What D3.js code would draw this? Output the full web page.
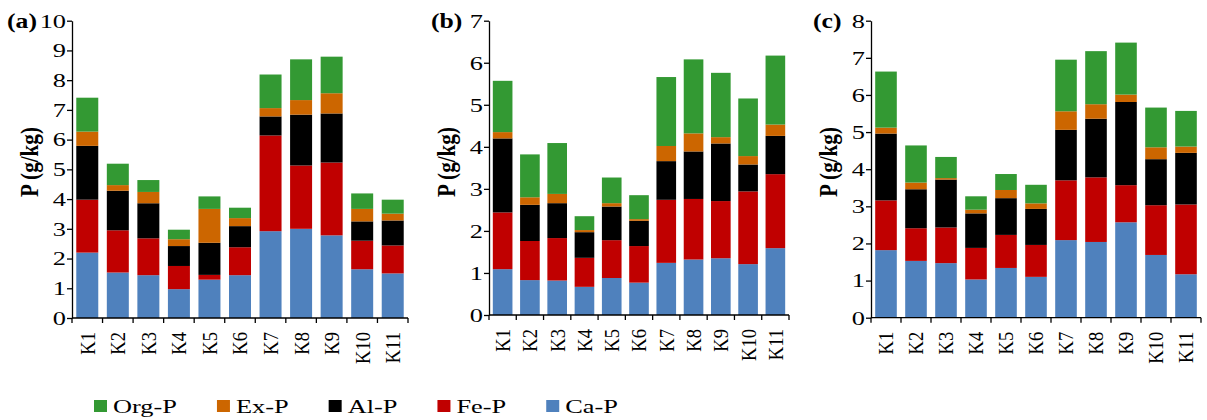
<!DOCTYPE html>
<html>
<head>
<meta charset="utf-8">
<script src="https://cdn.jsdelivr.net/npm/d3@7"></script>
<style>
  html, body { margin: 0; padding: 0; background: #fff; }
  svg { display: block; }
  text { fill: #000; }
</style>
</head>
<body>
<svg id="chart" width="1207" height="420"></svg>
<script>
// Sampling sites
const categories = ["K1","K2","K3","K4","K5","K6","K7","K8","K9","K10","K11"];

// Phosphorus fractions, bottom of the stack first
const fractions = ["Ca-P","Fe-P","Al-P","Ex-P","Org-P"];
const fractionColors = ["#4F81BD","#C00000","#000000","#CC6600","#339933"];
// Legend order (left to right)
const legendOrder = ["Org-P","Ex-P","Al-P","Fe-P","Ca-P"];

// Panel (a), g/kg
const caA  = [2.20,1.53,1.44,0.97,1.29,1.44,2.92,3.00,2.78,1.64,1.50];
const feA  = [1.78,1.42,1.24,0.78,0.16,0.94,3.22,2.13,2.45,0.96,0.94];
const alA  = [1.81,1.33,1.18,0.67,1.08,0.71,0.64,1.71,1.65,0.65,0.84];
const exA  = [0.48,0.19,0.38,0.23,1.14,0.27,0.28,0.49,0.68,0.42,0.23];
const orgA = [1.14,0.72,0.40,0.32,0.42,0.35,1.13,1.37,1.23,0.52,0.47];

// Panel (b), g/kg
const caB  = [1.09,0.83,0.82,0.67,0.88,0.77,1.24,1.32,1.35,1.21,1.59];
const feB  = [1.35,0.93,1.01,0.69,0.90,0.87,1.50,1.44,1.36,1.73,1.76];
const alB  = [1.76,0.86,0.83,0.61,0.80,0.60,0.92,1.13,1.37,0.64,0.91];
const exB  = [0.15,0.18,0.22,0.05,0.08,0.04,0.36,0.43,0.15,0.20,0.27];
const orgB = [1.22,1.02,1.21,0.33,0.61,0.57,1.64,1.76,1.53,1.37,1.64];

// Panel (c), g/kg
const caC  = [1.82,1.53,1.47,1.03,1.34,1.10,2.09,2.04,2.57,1.69,1.17];
const feC  = [1.34,0.88,0.96,0.85,0.89,0.86,1.61,1.74,1.00,1.34,1.88];
const alC  = [1.80,1.05,1.29,0.93,0.99,0.97,1.36,1.58,2.24,1.24,1.39];
const exC  = [0.16,0.18,0.04,0.10,0.22,0.15,0.50,0.39,0.20,0.32,0.17];
const orgC = [1.51,1.00,0.57,0.36,0.43,0.50,1.39,1.43,1.40,1.07,0.96];

// Y-axis maxima per panel
const yMaxes = [10, 7, 8];
const panelTags = ["(a)","(b)","(c)"];
const yTitle = "P (g/kg)";

const panelSeries = [
  [caA, feA, alA, exA, orgA],
  [caB, feB, alB, exB, orgB],
  [caC, feC, alC, exC, orgC]
];

// Layout of each panel on the page
const layouts = [
  { x0: 72,  x1: 408,  yTop: 20.7, y0: 318,   tagX: 7,   titleX: 30 },
  { x0: 489, x1: 789,  yTop: 20.7, y0: 315,   tagX: 431, titleX: 447 },
  { x0: 871, x1: 1201, yTop: 20.7, y0: 317.7, tagX: 813, titleX: 828.5 }
];

const FONT = '"Times New Roman", Times, "Liberation Serif", "DejaVu Serif", serif';
const svg = d3.select("#chart");
const color = d3.scaleOrdinal().domain(fractions).range(fractionColors);

// measure a string's advance width in the chosen font
function measure(str, size, weight) {
  const t = svg.append("text")
    .style("font-family", FONT).style("font-size", size + "px")
    .style("font-weight", weight || "normal").text(str);
  const w = t.node().getComputedTextLength();
  t.remove();
  return w;
}

// text metrics: upright text is widened to the serif proportions used in the figure
const UPRIGHT_SIZE = 18;
const STRETCH = 64 / measure("Org-P", UPRIGHT_SIZE);
const TAG_SIZE = 20;
const TAG_STRETCH = 30 / measure("(a)", TAG_SIZE, "bold");
const XLABEL_SIZE = 19 * 22.7 / measure("K1", 19);
const TITLE_SIZE = 20 * 70 / measure(yTitle, 20, "bold");

panelSeries.forEach((series, pi) => {
  const L = layouts[pi];
  const rows = categories.map((c, i) => {
    const r = { cat: c };
    fractions.forEach((f, k) => { r[f] = series[k][i]; });
    return r;
  });
  const stacked = d3.stack().keys(fractions)(rows);

  const x = d3.scaleBand().domain(categories).range([L.x0, L.x1])
    .paddingInner(0.28).paddingOuter(0.14);
  const y = d3.scaleLinear().domain([0, yMaxes[pi]]).range([L.y0, L.yTop]);

  const g = svg.append("g");

  // stacked bars
  g.selectAll("g.layer").data(stacked).join("g")
    .attr("class", "layer")
    .attr("fill", d => color(d.key))
    .selectAll("rect").data(d => d).join("rect")
      .attr("x", d => x(d.data.cat))
      .attr("width", x.bandwidth())
      .attr("y", d => y(d[1]))
      .attr("height", d => y(d[0]) - y(d[1]));

  // y axis
  const yAxis = g.append("g")
    .attr("transform", `translate(${L.x0},0)`)
    .call(d3.axisLeft(y).ticks(yMaxes[pi]).tickFormat(d3.format("d")).tickSize(5).tickSizeOuter(0));
  yAxis.attr("font-family", null);
  yAxis.select(".domain").attr("stroke", "#000").attr("stroke-width", 1.3);
  yAxis.selectAll(".tick line").attr("stroke", "#000").attr("stroke-width", 1.3);
  yAxis.selectAll(".tick text")
    .attr("x", null).attr("dy", "0.35em")
    .attr("transform", `translate(-6,0) scale(${STRETCH},1)`)
    .style("font-size", UPRIGHT_SIZE + "px").style("font-family", FONT);

  // x axis: labels at band centres, ticks on band boundaries
  const xAxis = g.append("g")
    .attr("transform", `translate(0,${L.y0})`)
    .call(d3.axisBottom(x).tickSize(0).tickSizeOuter(0));
  xAxis.attr("font-family", null);
  xAxis.select(".domain").remove();
  xAxis.selectAll(".tick text")
    .attr("y", null).attr("dy", null)
    .attr("transform", "translate(0,14) scale(1.15,1) rotate(-90)")
    .attr("text-anchor", "end")
    .attr("dominant-baseline", "central")
    .style("font-size", XLABEL_SIZE + "px").style("font-family", FONT);

  const step = x.step();
  const bounds = d3.range(categories.length + 1).map(i => L.x0 + i * step);
  g.append("line")
    .attr("x1", L.x0).attr("x2", bounds[bounds.length - 1])
    .attr("y1", L.y0).attr("y2", L.y0)
    .attr("stroke", "#000").attr("stroke-width", 1.3);
  g.selectAll("line.xtick").data(bounds).join("line")
    .attr("class", "xtick")
    .attr("x1", d => d).attr("x2", d => d)
    .attr("y1", L.y0).attr("y2", L.y0 + 5)
    .attr("stroke", "#000").attr("stroke-width", 1.3);

  // y title
  g.append("text")
    .attr("transform", `translate(${L.titleX},162) scale(1.15,1) rotate(-90)`)
    .attr("text-anchor", "middle")
    .attr("dominant-baseline", "central")
    .style("font-family", FONT)
    .style("font-size", TITLE_SIZE + "px").style("font-weight", "bold")
    .text(yTitle);

  // panel tag
  g.append("text")
    .attr("transform", `translate(${L.tagX},28) scale(${TAG_STRETCH},1)`)
    .style("font-family", FONT)
    .style("font-size", TAG_SIZE + "px").style("font-weight", "bold")
    .text(panelTags[pi]);
});

// legend
const legend = svg.append("g");
let lx = 94;
legendOrder.forEach(name => {
  legend.append("rect")
    .attr("x", lx).attr("y", 400).attr("width", 13).attr("height", 12)
    .attr("fill", color(name));
  const t = legend.append("text")
    .attr("transform", `translate(${lx + 19},413) scale(${STRETCH},1)`)
    .style("font-family", FONT)
    .style("font-size", UPRIGHT_SIZE + "px")
    .text(name);
  const w = t.node().getComputedTextLength() * STRETCH;
  lx += 19 + w + 40;
});
</script>
</body>
</html>
